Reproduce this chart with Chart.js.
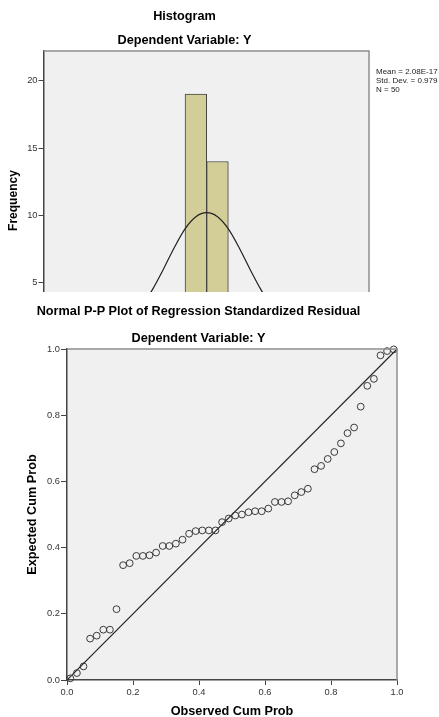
<!DOCTYPE html>
<html>
<head>
<meta charset="utf-8">
<script src="https://cdn.jsdelivr.net/npm/chart.js@4.4.1/dist/chart.umd.min.js"></script>
<style>
  html, body { margin: 0; padding: 0; background: #fff; width: 439px; height: 717px; overflow: hidden; }
  #histWrap { position: absolute; left: 0; top: 0; width: 439px; height: 292px; overflow: hidden; }
  #ppWrap { position: absolute; left: 0; top: 290px; width: 439px; height: 440px; }
  #stats { position: absolute; left: 376px; top: 68px; font: 8px "Liberation Sans", Arial, sans-serif;
           line-height: 8.8px; color: #222; white-space: nowrap; }
</style>
</head>
<body>
<div id="histWrap"><canvas id="hist" width="439" height="400"></canvas></div>
<div id="stats"></div>
<div id="ppWrap"><canvas id="pp" width="439" height="440"></canvas></div>
<script>
// histogram of the regression standardized residual (only the top part is in view)
const histBinCentres = [-0.25, 0.25];
const histFrequency = [19, 14];
const curveX = [-2.5, -2.25, -2, -1.75, -1.5, -1.25, -1, -0.75, -0.5, -0.25, 0,
                0.25, 0.5, 0.75, 1, 1.25, 1.5, 1.75, 2, 2.25, 2.5];
const curveY = [0.4, 0.7, 1.3, 2.1, 3.2, 4.5, 6.0, 7.6, 9.0, 9.9, 10.2,
                9.9, 9.0, 7.6, 6.0, 4.5, 3.2, 2.1, 1.3, 0.7, 0.4];
const histStats = ['Mean = 2.08E-17', 'Std. Dev. = 0.979', 'N = 50'];

// normal P-P plot
const observedCumProb = [0.01, 0.03, 0.05, 0.07, 0.09, 0.11, 0.13, 0.15, 0.17, 0.19,
                         0.21, 0.23, 0.25, 0.27, 0.29, 0.31, 0.33, 0.35, 0.37, 0.39,
                         0.41, 0.43, 0.45, 0.47, 0.49, 0.51, 0.53, 0.55, 0.57, 0.59,
                         0.61, 0.63, 0.65, 0.67, 0.69, 0.71, 0.73, 0.75, 0.77, 0.79,
                         0.81, 0.83, 0.85, 0.87, 0.89, 0.91, 0.93, 0.95, 0.97, 0.99];
const expectedCumProb = [0.005, 0.021, 0.041, 0.125, 0.134, 0.152, 0.152, 0.214, 0.347, 0.353,
                         0.375, 0.375, 0.377, 0.385, 0.405, 0.405, 0.412, 0.424, 0.442, 0.450,
                         0.452, 0.452, 0.452, 0.477, 0.488, 0.497, 0.500, 0.507, 0.510, 0.510,
                         0.518, 0.538, 0.538, 0.540, 0.558, 0.568, 0.578, 0.637, 0.647, 0.668,
                         0.689, 0.715, 0.746, 0.763, 0.826, 0.889, 0.910, 0.981, 0.994, 0.999];
const refLineX = [0, 1];
const refLineY = [0, 1];

const FONT = '"Liberation Sans", Arial, sans-serif';
Chart.defaults.font.family = FONT;
Chart.defaults.color = '#333';

document.getElementById('stats').innerHTML = histStats.join('<br>');

// grey plot background plus the light top/right frame
const plotFrame = {
    id: 'plotFrame',
    beforeDraw(chart) {
        const {ctx, chartArea: a} = chart;
        ctx.save();
        ctx.fillStyle = '#f0f0f0';
        ctx.fillRect(a.left, a.top, a.right - a.left, a.bottom - a.top);
        ctx.restore();
    },
    afterDraw(chart) {
        const {ctx, chartArea: a} = chart;
        ctx.save();
        ctx.strokeStyle = '#8f8f8f';
        ctx.lineWidth = 1.5;
        ctx.beginPath();
        ctx.moveTo(a.left, a.top);
        ctx.lineTo(a.right, a.top);
        ctx.lineTo(a.right, a.bottom);
        ctx.stroke();
        ctx.restore();
    }
};

const titleFont = {family: FONT, size: 12.7, weight: 'bold'};
const tickFont = {family: FONT, size: 9.3};

new Chart(document.getElementById('hist'), {
    type: 'bar',
    data: {
        datasets: [
            {
                type: 'line',
                data: curveX.map((x, i) => ({x: x, y: curveY[i]})),
                borderColor: '#222',
                borderWidth: 1.2,
                pointRadius: 0,
                cubicInterpolationMode: 'monotone',
                fill: false,
                order: 0
            },
            {
                type: 'bar',
                data: histBinCentres.map((x, i) => ({x: x, y: histFrequency[i]})),
                backgroundColor: '#d3ce97',
                borderColor: '#444',
                borderWidth: 1,
                barPercentage: 1,
                categoryPercentage: 1,
                order: 1
            }
        ]
    },
    options: {
        responsive: false,
        animation: false,
        devicePixelRatio: 1,
        layout: {padding: {left: 0, right: 70, top: 0, bottom: 0}},
        plugins: {
            legend: {display: false},
            tooltip: {enabled: false},
            title: {display: true, text: 'Histogram', font: titleFont, color: '#000',
                    padding: {top: 9.1, bottom: 0}},
            subtitle: {display: true, text: 'Dependent Variable: Y', font: titleFont, color: '#000',
                       padding: {top: 8.8, bottom: 2.7}}
        },
        scales: {
            x: {
                type: 'linear',
                min: -3.77,
                max: 3.75,
                offset: false,
                grid: {display: false, offset: false},
                border: {color: '#444'},
                ticks: {stepSize: 2, font: tickFont},
                afterFit: s => { s.height = 50; }
            },
            y: {
                min: 0,
                max: 22.2,
                ticks: {stepSize: 5, font: tickFont, color: '#333', padding: 1},
                grid: {drawOnChartArea: false, drawTicks: true, tickLength: 5, color: '#444'},
                border: {color: '#444', width: 1.5},
                title: {display: true, text: 'Frequency', font: {family: FONT, size: 12, weight: 'bold'},
                        color: '#000', padding: {top: 6.1, bottom: 0}},
                // keep only the multiples of 5, not the axis max
                afterBuildTicks: s => { s.ticks = s.ticks.filter(t => t.value % 5 === 0); },
                afterFit: s => { s.width = 43.5; }
            }
        }
    },
    plugins: [plotFrame]
});

new Chart(document.getElementById('pp'), {
    type: 'scatter',
    data: {
        datasets: [
            {
                type: 'line',
                data: refLineX.map((x, i) => ({x: x, y: refLineY[i]})),
                borderColor: '#222',
                borderWidth: 1.2,
                pointRadius: 0,
                fill: false,
                order: 1
            },
            {
                data: observedCumProb.map((x, i) => ({x: x, y: expectedCumProb[i]})),
                pointStyle: 'circle',
                pointRadius: 3.4,
                borderColor: '#3a3a3a',
                backgroundColor: 'rgba(0,0,0,0)',
                borderWidth: 1,
                clip: 5,
                order: 0
            }
        ]
    },
    options: {
        responsive: false,
        animation: false,
        devicePixelRatio: 1,
        layout: {padding: {left: 0, right: 42, top: 0, bottom: 0}},
        plugins: {
            legend: {display: false},
            tooltip: {enabled: false},
            title: {display: true, text: 'Normal P-P Plot of Regression Standardized Residual',
                    font: titleFont, color: '#000', padding: {top: 14.1, bottom: 0}},
            subtitle: {display: true, text: 'Dependent Variable: Y', font: titleFont, color: '#000',
                       padding: {top: 11.4, bottom: 3.1}}
        },
        scales: {
            x: {
                type: 'linear',
                min: 0,
                max: 1,
                ticks: {stepSize: 0.2, font: tickFont, color: '#333', padding: 2,
                        callback: v => v.toFixed(1)},
                grid: {drawOnChartArea: false, drawTicks: true, tickLength: 5, color: '#444'},
                border: {color: '#444', width: 1.5},
                title: {display: true, text: 'Observed Cum Prob', font: titleFont, color: '#000',
                        padding: {top: 0, bottom: 10.7}},
                afterFit: s => { s.height = 50; }
            },
            y: {
                min: 0,
                max: 1,
                ticks: {stepSize: 0.2, font: tickFont, color: '#333', padding: 1,
                        callback: v => v.toFixed(1)},
                grid: {drawOnChartArea: false, drawTicks: true, tickLength: 6, color: '#444'},
                border: {color: '#444', width: 1.5},
                title: {display: true, text: 'Expected Cum Prob', font: titleFont, color: '#000',
                        padding: {top: 24.7, bottom: 0}},
                afterFit: s => { s.width = 67; }
            }
        }
    },
    plugins: [plotFrame]
});
</script>
</body>
</html>
